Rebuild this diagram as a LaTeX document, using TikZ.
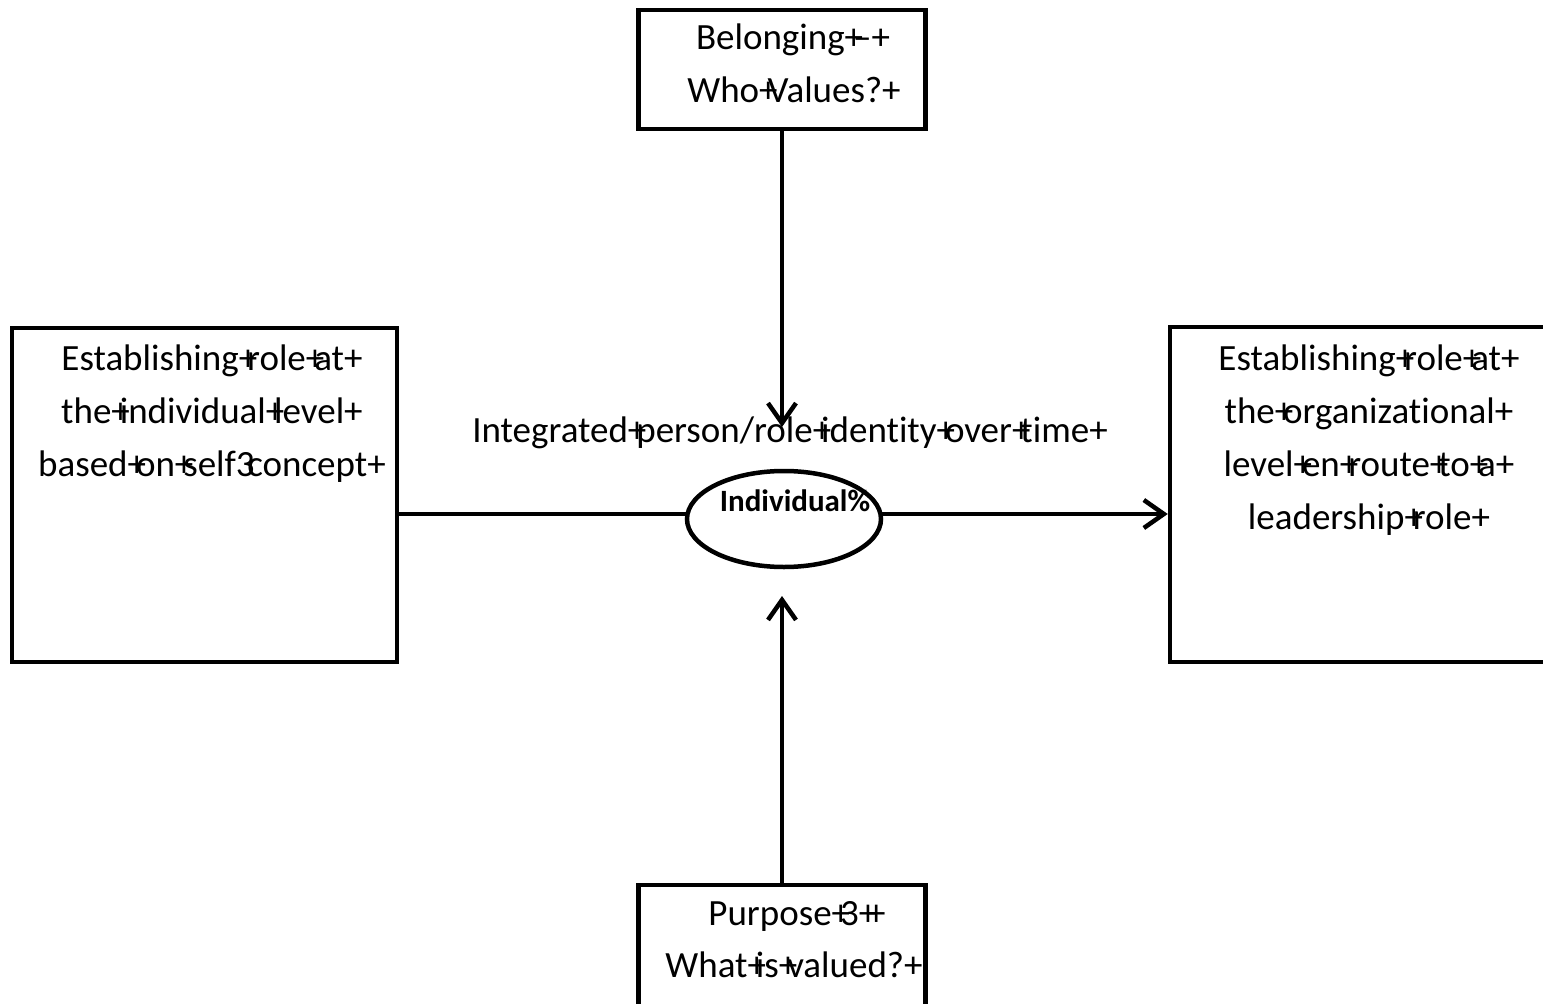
\documentclass[tikz,border=0pt]{standalone}
\usepackage{fontspec}
\setmainfont{Carlito}[Ligatures=NoCommon]
\usetikzlibrary{arrows.meta,shapes.geometric}
\newcommand\pk{+\kern-0.272em}
\newcommand\ti{t\kern0pt i}
\begin{document}
\begin{tikzpicture}[x=1pt,y=-1pt, line width=4.5pt,
  box/.style={draw, rectangle, inner sep=0pt},
  txt/.style={anchor=base, inner sep=0pt, font=\fontsize{37}{44}\selectfont},
  btxt/.style={anchor=base, inner sep=0pt, font=\fontsize{31}{36}\selectfont\bfseries},
  arr/.style={-{Straight Barb[length=20pt,width=28pt]}}]
\clip (0,0) rectangle (1543,1004);
\fill[white] (0,0) rectangle (1543,1004);
% boxes
\node[box, minimum width=385pt, minimum height=334pt] (L) at (204.5,495) {};
\node[box, minimum width=430pt, minimum height=335pt] (R) at (1385,494.5) {};
\node[box, minimum width=287pt, minimum height=119pt] (T) at (782,69.5) {};
\node[box, minimum width=287pt, minimum height=135pt] (B) at (782,952.5) {};
% ellipse
\node[draw, ellipse, fill=white, inner sep=0pt, minimum width=194pt, minimum height=96pt] (E) at (784,519) {};
% connectors
\coordinate (ttip) at (782,427);
\coordinate (btip) at (782,596);
\coordinate (hl) at (0,514);
\draw[arr] (T.south) -- (ttip);
\draw[arr] (B.north) -- (btip);
\draw (L.east |- hl) -- ([xshift=1pt]E.west |- hl);
\draw[arr] ([xshift=-1pt]E.east |- hl) -- (R.west |- hl);
% texts
\node[txt] (l1) at (212,370) {Establishing\pk role\pk at+};
\node[txt] (l2) at (212,423) {the\pk individual\pk level+};
\node[txt] (l3) at (212,476) {based\pk on\pk self3\kern-0.2em concept+};
\node[txt] (r1) at (1369,370) {Establishing\pk role\pk at+};
\node[txt] (r2) at (1369,423) {the\pk organiza\ti onal+};
\node[txt] (r3) at (1369,476) {level\pk en\pk route\pk to\pk a+};
\node[txt] (r4) at (1369,529) {leadership\pk role+};
\node[txt] (t1) at (793,49) {Belonging\pk –+};
\node[txt] (t2) at (794,102) {Who\pk Values?+};
\node[txt] (b1) at (797,925) {Purpose\pk 3\pk +};
\node[txt] (b2) at (794,977) {What\pk is\pk valued?+};
\node[txt] (lab) at (790,442) {Integrated\pk person/role\pk iden\ti ty\pk over\pk \ti me+};
\node[btxt] (ind) at (795,511) {Individual\%};
\end{tikzpicture}
\end{document}
